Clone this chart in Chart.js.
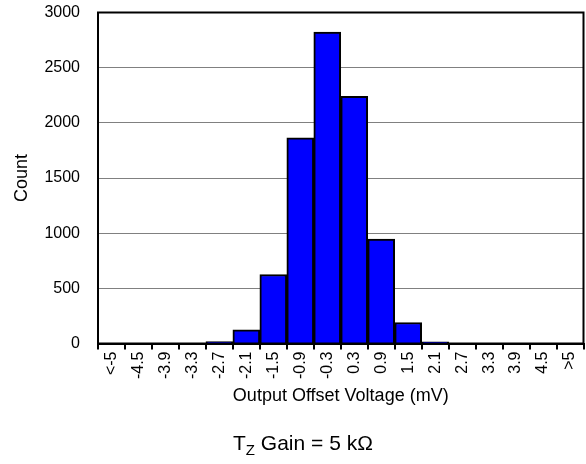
<!DOCTYPE html>
<html><head><meta charset="utf-8">
<script src="https://cdn.jsdelivr.net/npm/chart.js@4"></script>
<style>
html,body{margin:0;padding:0;background:#fff;}
#wrap{position:relative;width:586px;height:464px;}
#sub{position:absolute;left:233px;top:431px;font-family:"Liberation Sans",Arial,sans-serif;font-size:21px;color:#000;white-space:nowrap;line-height:23px;}
#sub sub{font-size:15px;vertical-align:baseline;position:relative;top:5px;}
</style></head><body>
<div id="wrap"><canvas id="c" width="586" height="464"></canvas>
<div id="sub">T<sub>Z</sub> Gain = 5 kΩ</div></div>
<script>
const categories = ['<-5','-4.5','-3.9','-3.3','-2.7','-2.1','-1.5','-0.9','-0.3','0.3','0.9','1.5','2.1','2.7','3.3','3.9','4.5','>5'];
const counts = [0,0,0,0,18,125,625,1865,2823,2240,947,190,15,0,0,0,0,0];
const yMin = 0, yMax = 3000, yStep = 500;
const FONT = '"Liberation Sans", Arial, sans-serif';

const framePlugin = {
  id: 'frame',
  afterDatasetsDraw(chart) {
    const {ctx, chartArea: a} = chart;
    ctx.save();
    ctx.strokeStyle = '#000';
    ctx.lineWidth = 2;
    ctx.strokeRect(a.left, a.top, a.right - a.left, a.bottom - a.top);
    ctx.restore();
  }
};

new Chart(document.getElementById('c'), {
  type: 'bar',
  data: {
    labels: categories,
    datasets: [{
      data: counts,
      backgroundColor: '#0000FF',
      borderColor: '#000',
      borderWidth: 2,
      borderSkipped: 'start',
      barPercentage: 1,
      categoryPercentage: 1
    }]
  },
  options: {
    responsive: false,
    animation: false,
    devicePixelRatio: 1,
    layout: {padding: {top: 12.5, right: 2.5, bottom: 53, left: 0}},
    plugins: {legend: {display: false}, tooltip: {enabled: false}},
    scales: {
      x: {
        offset: true,
        grid: {offset: true, drawOnChartArea: false, drawTicks: true, tickLength: 6, color: '#000', lineWidth: 2},
        border: {color: '#000', width: 2},
        ticks: {font: {family: FONT, size: 16}, color: '#000', minRotation: 90, maxRotation: 90, padding: 2, autoSkip: false},
        title: {display: true, text: 'Output Offset Voltage (mV)', font: {family: FONT, size: 18}, color: '#000', padding: {top: 4, bottom: 4}},
        afterFit(s) { s.height = 67.5; s.paddingLeft = 0; s.paddingRight = 0; }
      },
      y: {
        min: yMin, max: yMax,
        ticks: {stepSize: yStep, font: {family: FONT, size: 16}, color: '#000', padding: 18, callback: v => String(v)},
        grid: {color: '#808080', lineWidth: 1, drawTicks: false},
        border: {color: '#000', width: 2},
        title: {display: true, text: 'Count', font: {family: FONT, size: 18}, color: '#000', padding: {top: 11, bottom: 4}},
        afterFit(s) { s.width = 98; s.paddingTop = 0; s.paddingBottom = 0; }
      }
    }
  },
  plugins: [framePlugin]
});
</script>
</body></html>
